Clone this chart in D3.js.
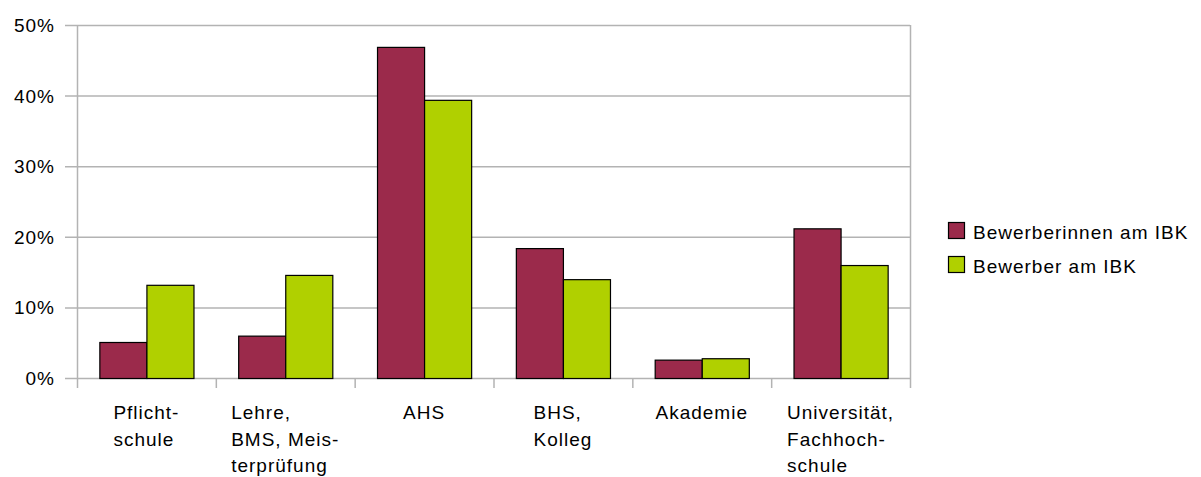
<!DOCTYPE html>
<html>
<head>
<meta charset="utf-8">
<script src="https://cdn.jsdelivr.net/npm/d3@7"></script>
<style>
  body { margin: 0; background: #fff; }
  text { font-family: "Liberation Sans", Arial, sans-serif; font-size: 19px; letter-spacing: 1px; fill: #000; }
</style>
</head>
<body>
<div id="chart"></div>
<script>
// categories, split into the lines used under the axis
const categories = [
  ['Pflicht-', 'schule'],
  ['Lehre,', 'BMS, Meis-', 'terprüfung'],
  ['AHS'],
  ['BHS,', 'Kolleg'],
  ['Akademie'],
  ['Universität,', 'Fachhoch-', 'schule']
];
const seriesNames = ['Bewerberinnen am IBK', 'Bewerber am IBK'];
const women = [5.1, 6.0, 46.9, 18.4, 2.6, 21.2];
const men = [13.2, 14.6, 39.4, 14.0, 2.8, 16.0];
const yTicks = [0, 10, 20, 30, 40, 50];

const colors = ['#9b2a4b', '#b0d000'];
const gridColor = '#b3b3b3';

const W = 1201, H = 477;
const mLeft = 77, mRight = 910, mTop = 25, mBottom = 378;

const svg = d3.select('#chart').append('svg')
  .attr('width', W)
  .attr('height', H);

const x = d3.scaleBand()
  .domain(d3.range(categories.length))
  .range([mLeft, mRight])
  .paddingInner(0.322)
  .paddingOuter(0.161);

const xFull = d3.scaleBand()
  .domain(d3.range(categories.length))
  .range([mLeft, mRight]);

const xSub = d3.scaleBand()
  .domain([0, 1])
  .range([0, x.bandwidth()]);

const y = d3.scaleLinear()
  .domain([0, 50])
  .range([mBottom, mTop]);

// gridlines + y tick marks
svg.append('g').selectAll('line')
  .data(yTicks)
  .enter().append('line')
  .attr('x1', mLeft - 12)
  .attr('x2', mRight)
  .attr('y1', d => y(d) + 0.5)
  .attr('y2', d => y(d) + 0.5)
  .style('stroke', gridColor)
  .style('stroke-width', 1.5);

// y labels
svg.append('g').selectAll('text')
  .data(yTicks)
  .enter().append('text')
  .attr('x', mLeft - 22)
  .attr('y', d => y(d) + 7)
  .attr('text-anchor', 'end')
  .text(d => d + '%');

// vertical lines at category boundaries (ticks), full at plot edges
const bounds = d3.range(categories.length + 1);
const bx = d => (d < categories.length ? xFull(d) : mRight) + 0.5;
svg.append('g').selectAll('line')
  .data(bounds)
  .enter().append('line')
  .attr('x1', bx)
  .attr('x2', bx)
  .attr('y1', d => (d === 0 || d === categories.length) ? mTop : mBottom)
  .attr('y2', mBottom + 10)
  .style('stroke', gridColor)
  .style('stroke-width', 1.5);

// bars
const series = [women, men];
series.forEach((vals, s) => {
  svg.append('g').selectAll('rect')
    .data(vals)
    .enter().append('rect')
    .attr('x', (d, i) => x(i) + xSub(s) + 0.5)
    .attr('y', d => y(d) + 0.5)
    .attr('width', xSub.bandwidth())
    .attr('height', d => mBottom - y(d))
    .style('fill', colors[s])
    .style('stroke', '#000')
    .style('stroke-width', 1.2);
});

// category labels: lines left-aligned in a block centred on the category
const labels = svg.append('g');
categories.forEach((lines, i) => {
  const g = labels.append('g');
  const t = g.selectAll('text')
    .data(lines)
    .enter().append('text')
    .attr('y', (d, j) => 419 + j * 26.5)
    .text(d => d);
  let maxW = 0;
  t.each(function () { maxW = Math.max(maxW, this.getComputedTextLength()); });
  const cx = xFull(i) + xFull.bandwidth() / 2;
  t.attr('x', cx - maxW / 2);
});

// legend
const legend = svg.append('g')
  .attr('transform', 'translate(948,222)');
seriesNames.forEach((name, s) => {
  const row = legend.append('g')
    .attr('transform', 'translate(0,' + s * 34 + ')');
  row.append('rect')
    .attr('x', 0.5)
    .attr('y', 0.5)
    .attr('width', 16)
    .attr('height', 16)
    .style('fill', colors[s])
    .style('stroke', '#000')
    .style('stroke-width', 1.2);
  row.append('text')
    .attr('x', 25)
    .attr('y', 17)
    .text(name);
});
</script>
</body>
</html>
